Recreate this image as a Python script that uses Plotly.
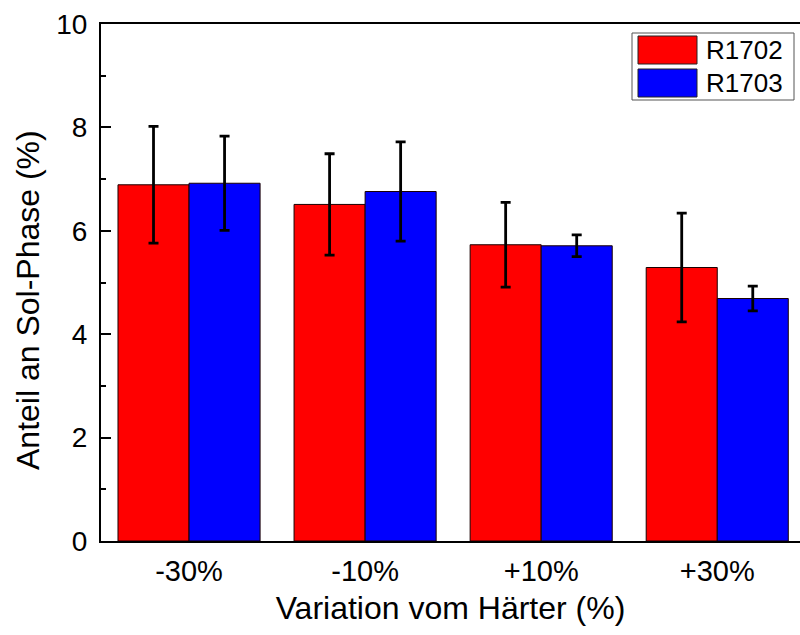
import plotly.graph_objects as go

categories = ["-30%", "-10%", "+10%", "+30%"]
series_names = ["R1702", "R1703"]
r1702_values = [6.89, 6.51, 5.73, 5.29]
r1702_errors = [1.13, 0.98, 0.82, 1.05]
r1703_values = [6.92, 6.76, 5.71, 4.69]
r1703_errors = [0.91, 0.96, 0.21, 0.24]
colors = ["#FF0000", "#0000FF"]

FONT = "Liberation Sans, Arial, sans-serif"
W, H = 800, 635
L, R, T, B = 101, 0, 24, 94
pw, ph = W - L - R, H - T - B

def px_x(x):
    return (x - L) / pw

def px_y(y):
    return (H - B - y) / ph

fig = go.Figure()
for name, vals, errs, col in [
    (series_names[0], r1702_values, r1702_errors, colors[0]),
    (series_names[1], r1703_values, r1703_errors, colors[1]),
]:
    fig.add_trace(go.Bar(
        x=categories, y=vals, name=name,
        marker=dict(color=col, line=dict(color="#1a0000", width=1)),
        error_y=dict(type="data", array=errs, visible=True,
                     color="black", thickness=2.8, width=5),
        showlegend=False,
    ))

# legend drawn as box + swatches + text
shapes = [
    dict(type="rect", xref="paper", yref="paper",
         x0=px_x(632), x1=px_x(794), y0=px_y(100), y1=px_y(33),
         line=dict(color="#555555", width=1), fillcolor="white", layer="above"),
]
annotations = []
for i, (name, col) in enumerate(zip(series_names, colors)):
    y0 = 36 + i * 33
    shapes.append(dict(type="rect", xref="paper", yref="paper",
                       x0=px_x(638), x1=px_x(697), y0=px_y(y0 + 28), y1=px_y(y0),
                       line=dict(color="#222222", width=1), fillcolor=col, layer="above"))
    annotations.append(dict(xref="paper", yref="paper", x=px_x(704), y=px_y(y0 + 14),
                            text=name, showarrow=False, xanchor="left", yanchor="middle",
                            font=dict(family=FONT, size=26, color="black")))

# y-axis title
annotations.append(dict(xref="paper", yref="paper", x=px_x(28), y=px_y(300),
                        text="Anteil an Sol-Phase (%)", textangle=-90, showarrow=False,
                        xanchor="center", yanchor="middle",
                        font=dict(family=FONT, size=32, color="black")))

fig.update_layout(
    width=W, height=H,
    margin=dict(l=L, r=R, t=T, b=B, pad=0),
    paper_bgcolor="white", plot_bgcolor="white",
    barmode="group", bargap=0.193, bargroupgap=0,
    font=dict(family=FONT, size=27, color="black"),
    shapes=shapes, annotations=annotations,
    showlegend=False,
)
fig.update_xaxes(
    range=[-0.5, 3.47], showline=True, linecolor="black", linewidth=2,
    mirror=True, ticks="", showgrid=False, zeroline=False,
    tickfont=dict(family=FONT, size=29), ticklabelstandoff=3,
    title=dict(text="Variation vom Härter (%)", font=dict(family=FONT, size=32), standoff=11),
)
fig.update_yaxes(
    range=[0, 10], dtick=2, showline=True, linecolor="black", linewidth=2,
    mirror=False, ticks="inside", ticklen=10, tickwidth=2, tickcolor="black",
    minor=dict(dtick=1, ticks="inside", ticklen=5, tickwidth=2, tickcolor="black"),
    showgrid=False, zeroline=False,
    tickfont=dict(family=FONT, size=28), ticklabelstandoff=6,
)

fig.write_html("out.html")
